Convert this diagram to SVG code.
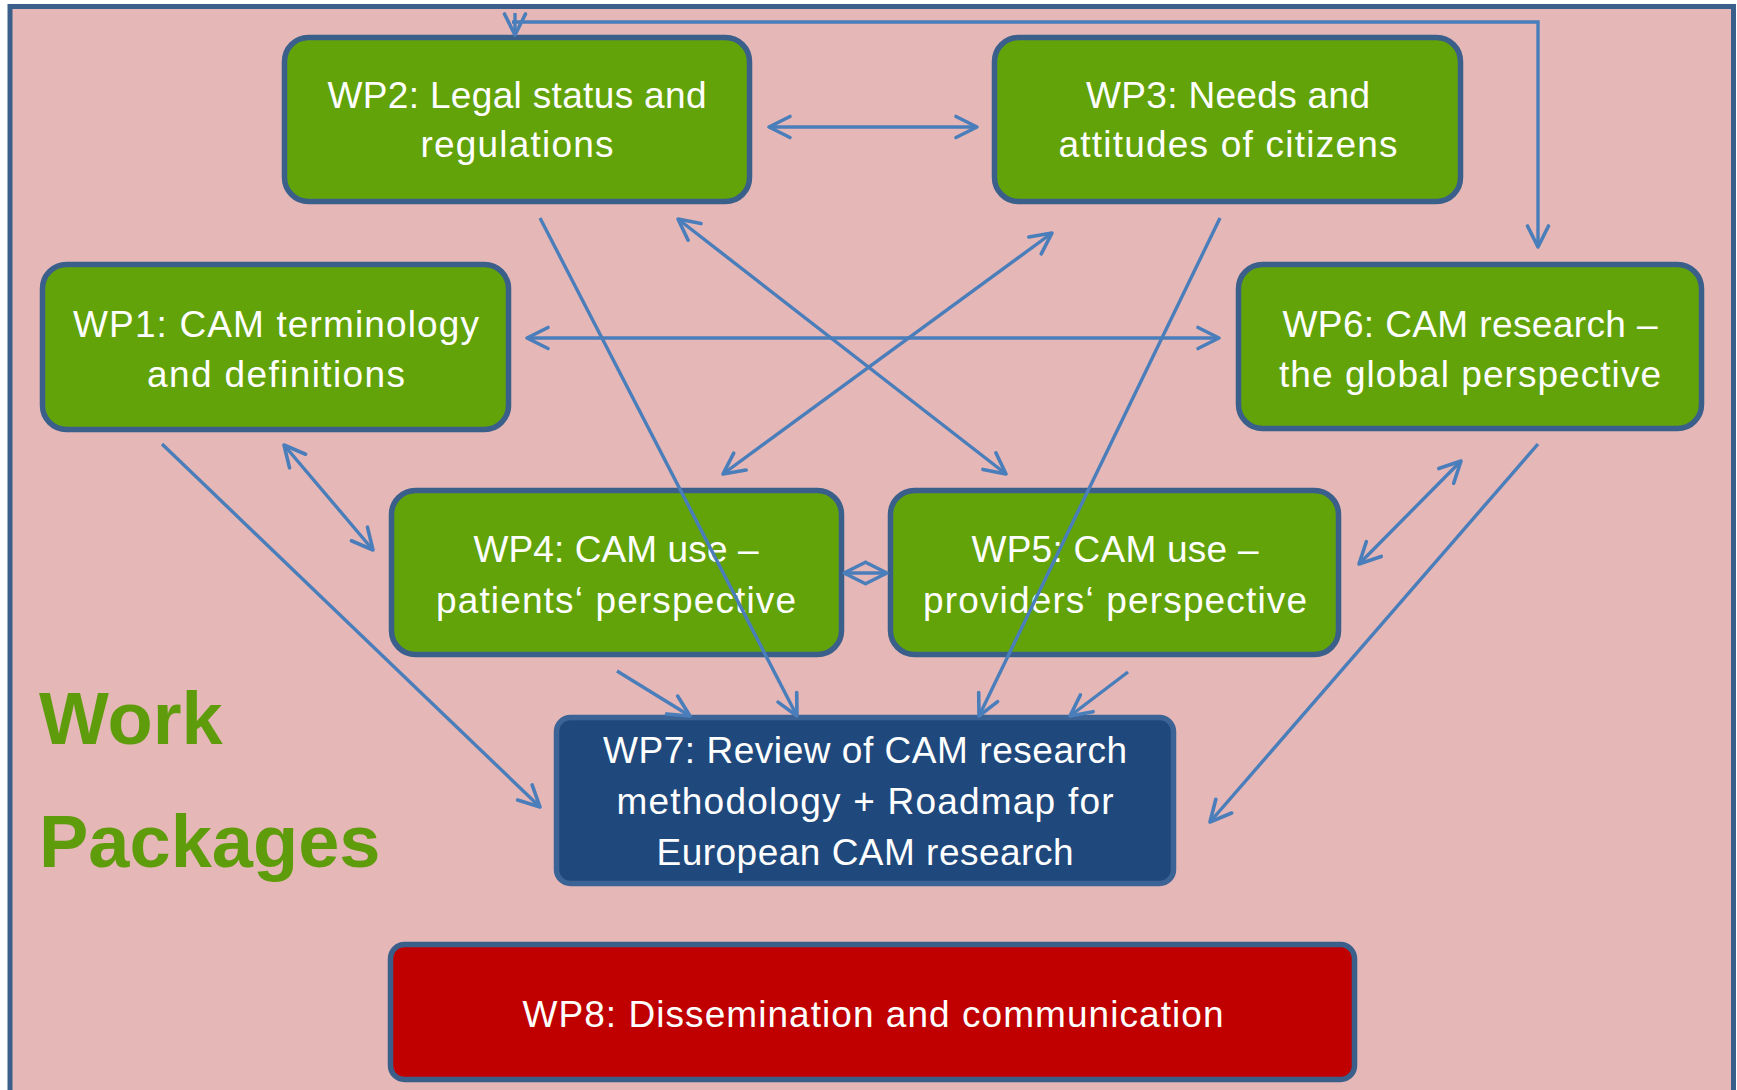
<svg xmlns="http://www.w3.org/2000/svg" width="1737" height="1090" viewBox="0 0 1737 1090">
  <defs>
    <style>
      .box { stroke: #3A5F8B; stroke-width: 5.5; }
      .green { fill: #62A30A; }
      .blue { fill: #1F497D; stroke: #3C6396; }
      .red { fill: #C00000; }
      .lbl { font-family: "Liberation Sans", Arial, sans-serif; font-size: 37px; fill: #FFFFFF; text-anchor: middle; }
      .big { font-family: "Liberation Sans", Arial, sans-serif; font-size: 74px; font-weight: bold; fill: #5E9C0B; }
      .con { fill: none; stroke: #4A7EBB; stroke-width: 3.4; }
    </style>
    <marker id="arr" markerUnits="userSpaceOnUse" viewBox="-25 -14 28 28" markerWidth="28" markerHeight="28" refX="0" refY="0" orient="auto-start-reverse">
      <path d="M-21,-10.5 L0,0 L-21,10.5" fill="none" stroke="#4A7EBB" stroke-width="3.6" stroke-linecap="round" stroke-linejoin="round"/>
    </marker>
  </defs>

  <rect x="0" y="0" width="1737" height="1090" fill="#FFFFFF"/>
  <rect id="frame" x="10" y="6.5" width="1723.5" height="1100" fill="#E5B7B7" stroke="#3A5F8B" stroke-width="5"/>

  <text class="big" x="39" y="744">Work</text>
  <text class="big" x="39" y="867">Packages</text>

  <g id="wp2">
    <rect class="box green" x="284.5" y="37.5" width="465" height="164" rx="24"/>
    <text class="lbl" x="517" y="108" textLength="379">WP2: Legal status and</text>
    <text class="lbl" x="517" y="157" textLength="193">regulations</text>
  </g>
  <g id="wp3">
    <rect class="box green" x="994.5" y="37.5" width="466" height="164" rx="24"/>
    <text class="lbl" x="1228" y="108" textLength="284">WP3: Needs and</text>
    <text class="lbl" x="1228" y="157" textLength="339">attitudes of citizens</text>
  </g>
  <g id="wp1">
    <rect class="box green" x="42.5" y="264.5" width="466" height="165" rx="24"/>
    <text class="lbl" x="276" y="337" textLength="406">WP1: CAM terminology</text>
    <text class="lbl" x="276" y="387" textLength="258">and definitions</text>
  </g>
  <g id="wp6">
    <rect class="box green" x="1238.5" y="264.5" width="463" height="164" rx="24"/>
    <text class="lbl" x="1470" y="337" textLength="375">WP6: CAM research –</text>
    <text class="lbl" x="1470" y="387" textLength="382">the global perspective</text>
  </g>
  <g id="wp4">
    <rect class="box green" x="391.5" y="490.5" width="450" height="164" rx="24"/>
    <text class="lbl" x="616" y="562" textLength="285">WP4: CAM use –</text>
    <text class="lbl" x="616" y="613" textLength="360">patients‘ perspective</text>
  </g>
  <g id="wp5">
    <rect class="box green" x="890.5" y="490.5" width="448" height="164" rx="24"/>
    <text class="lbl" x="1115" y="562" textLength="287">WP5: CAM use –</text>
    <text class="lbl" x="1115" y="613" textLength="384">providers‘ perspective</text>
  </g>
  <g id="wp7">
    <rect class="box blue" x="556.5" y="717.5" width="617" height="166" rx="14"/>
    <text class="lbl" x="865" y="763" textLength="524">WP7: Review of CAM research</text>
    <text class="lbl" x="865" y="814" textLength="497">methodology + Roadmap for</text>
    <text class="lbl" x="865" y="865" textLength="417">European CAM research</text>
  </g>
  <g id="wp8">
    <rect class="box red" x="390.5" y="944.5" width="964" height="135" rx="14"/>
    <text class="lbl" x="873" y="1027" textLength="701">WP8: Dissemination and communication</text>
  </g>

  <g id="connectors">
    <path class="con" d="M769,127 L977,127" marker-start="url(#arr)" marker-end="url(#arr)"/>
    <path class="con" d="M527,338 L1219,338" marker-start="url(#arr)" marker-end="url(#arr)"/>
    <path class="con" d="M678,219 L1006,474" marker-start="url(#arr)" marker-end="url(#arr)"/>
    <path class="con" d="M1052,233 L723,474" marker-start="url(#arr)" marker-end="url(#arr)"/>
    <path class="con" d="M284,445 L373,550" marker-start="url(#arr)" marker-end="url(#arr)"/>
    <path class="con" d="M844,573 L887,573" marker-start="url(#arr)" marker-end="url(#arr)"/>
    <path class="con" d="M1461,461 L1359,564" marker-start="url(#arr)" marker-end="url(#arr)"/>
    <path class="con" d="M162,444 L540,807" marker-end="url(#arr)"/>
    <path class="con" d="M1538,444 L1210,822" marker-end="url(#arr)"/>
    <path class="con" d="M617,671 L690,716" marker-end="url(#arr)"/>
    <path class="con" d="M1128,672 L1070,716" marker-end="url(#arr)"/>
    <path class="con" d="M540,218 L797,716" marker-end="url(#arr)"/>
    <path class="con" d="M1220,218 L979,716" marker-end="url(#arr)"/>
    <path class="con" d="M512,22 L1538,22 L1538,247" marker-end="url(#arr)"/>
    <path class="con" d="M515,13 L515,35" marker-end="url(#arr)"/>
  </g>
</svg>
